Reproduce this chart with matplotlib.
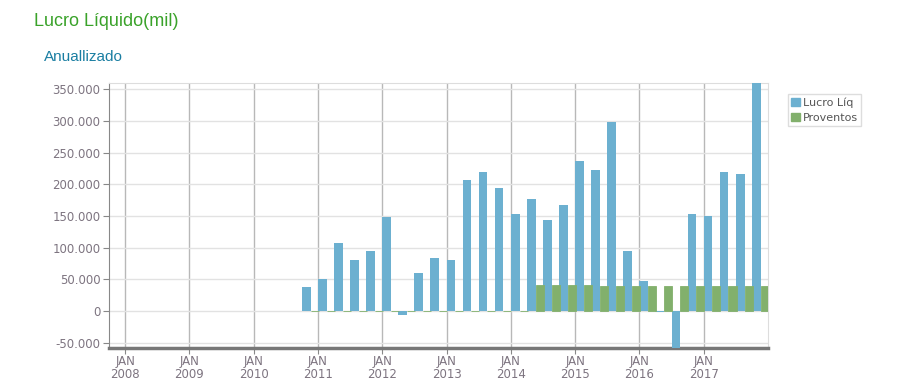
import numpy as np
import matplotlib.pyplot as plt
from matplotlib.patches import Patch

# trimestres (ano, trimestre)
trimestres = ['2010T4',
              '2011T1', '2011T2', '2011T3', '2011T4',
              '2012T1', '2012T2', '2012T3', '2012T4',
              '2013T1', '2013T2', '2013T3', '2013T4',
              '2014T1', '2014T2', '2014T3', '2014T4',
              '2015T1', '2015T2', '2015T3', '2015T4',
              '2016T1', '2016T2', '2016T3', '2016T4',
              '2017T1', '2017T2', '2017T3', '2017T4']

lucro = [37500,
         50000, 108000, 81000, 94000,
         148500, -6000, 59500, 83000,
         80000, 206000, 219000, 194000,
         153000, 177000, 144000, 167000,
         237500, 222000, 298500, 95000,
         47000, -1500, -62000, 153000,
         150000, 219000, 216000, 365000]

proventos = [0,
             0, 0, 0, 0,
             0, 0, 0, 0,
             0, 0, 0, 0,
             0, 40600, 40600, 40600,
             40600, 39000, 39000, 39000,
             39000, 39000, 39000, 39000,
             39000, 39000, 39000, 39000]

anos = list(range(2008, 2018))

azul = '#6cb0d0'
verde = '#82b06c'
cinza_txt = '#7d7480'

x = np.array([int(t[:4]) + (int(t[-1]) - 1) / 4 for t in trimestres])
w = 0.135

fig = plt.figure(figsize=(9.09, 3.9), dpi=100)
ax = fig.add_axes([0.1199, 0.1077, 0.725, 0.679])

ax.bar(x, lucro, width=w, align='edge', color=azul, zorder=3)
ax.bar(x + w, proventos, width=0.125, align='edge', color=verde,
       edgecolor=verde, linewidth=0.6, zorder=3)

ax.set_xlim(2007.75, 2018.0)
ax.set_ylim(-58300, 359500)

yt = np.arange(-50000, 350001, 50000)
ax.set_yticks(yt)
ax.set_yticklabels(['{:,}'.format(v).replace(',', '.') for v in yt],
                   color=cinza_txt, fontsize=8.5)
ax.set_xticks(anos)
ax.set_xticklabels(['JAN\n%d' % a for a in anos], color=cinza_txt,
                   fontsize=8.5, linespacing=1.05)

ax.grid(axis='y', color='#e2e2e2', linewidth=1, zorder=0)
ax.grid(axis='x', color='#b8b8b8', linewidth=1, zorder=0)
ax.set_axisbelow(True)

ax.tick_params(axis='y', length=4, color='#888888', pad=2)
ax.tick_params(axis='x', length=4, color='#888888', pad=1)

for s in ['top', 'right']:
    ax.spines[s].set_color('#dddddd')
ax.spines['left'].set_color('#888888')
ax.spines['bottom'].set_color('#777777')
ax.spines['bottom'].set_linewidth(2.5)

handles = [Patch(color=azul, label='Lucro Líq'),
           Patch(color=verde, label='Proventos')]
leg = fig.legend(handles=handles, loc='upper left',
                 bbox_to_anchor=(0.867, 0.758), fontsize=8,
                 handlelength=0.8, handleheight=0.8, handletextpad=0.3,
                 borderpad=0.25, labelspacing=0.45, fancybox=False,
                 edgecolor='#dddddd', framealpha=1, labelcolor='#555555',
                 borderaxespad=0)
leg.get_frame().set_linewidth(1)

fig.text(0.037, 0.945, 'Lucro Líquido(mil)', color='#3aa22a', fontsize=13,
         family='Liberation Sans', va='center')
fig.text(0.048, 0.855, 'Anuallizado', color='#1a7ea2', fontsize=11,
         family='Liberation Sans', va='center')

fig.savefig('out.png', dpi=100)
